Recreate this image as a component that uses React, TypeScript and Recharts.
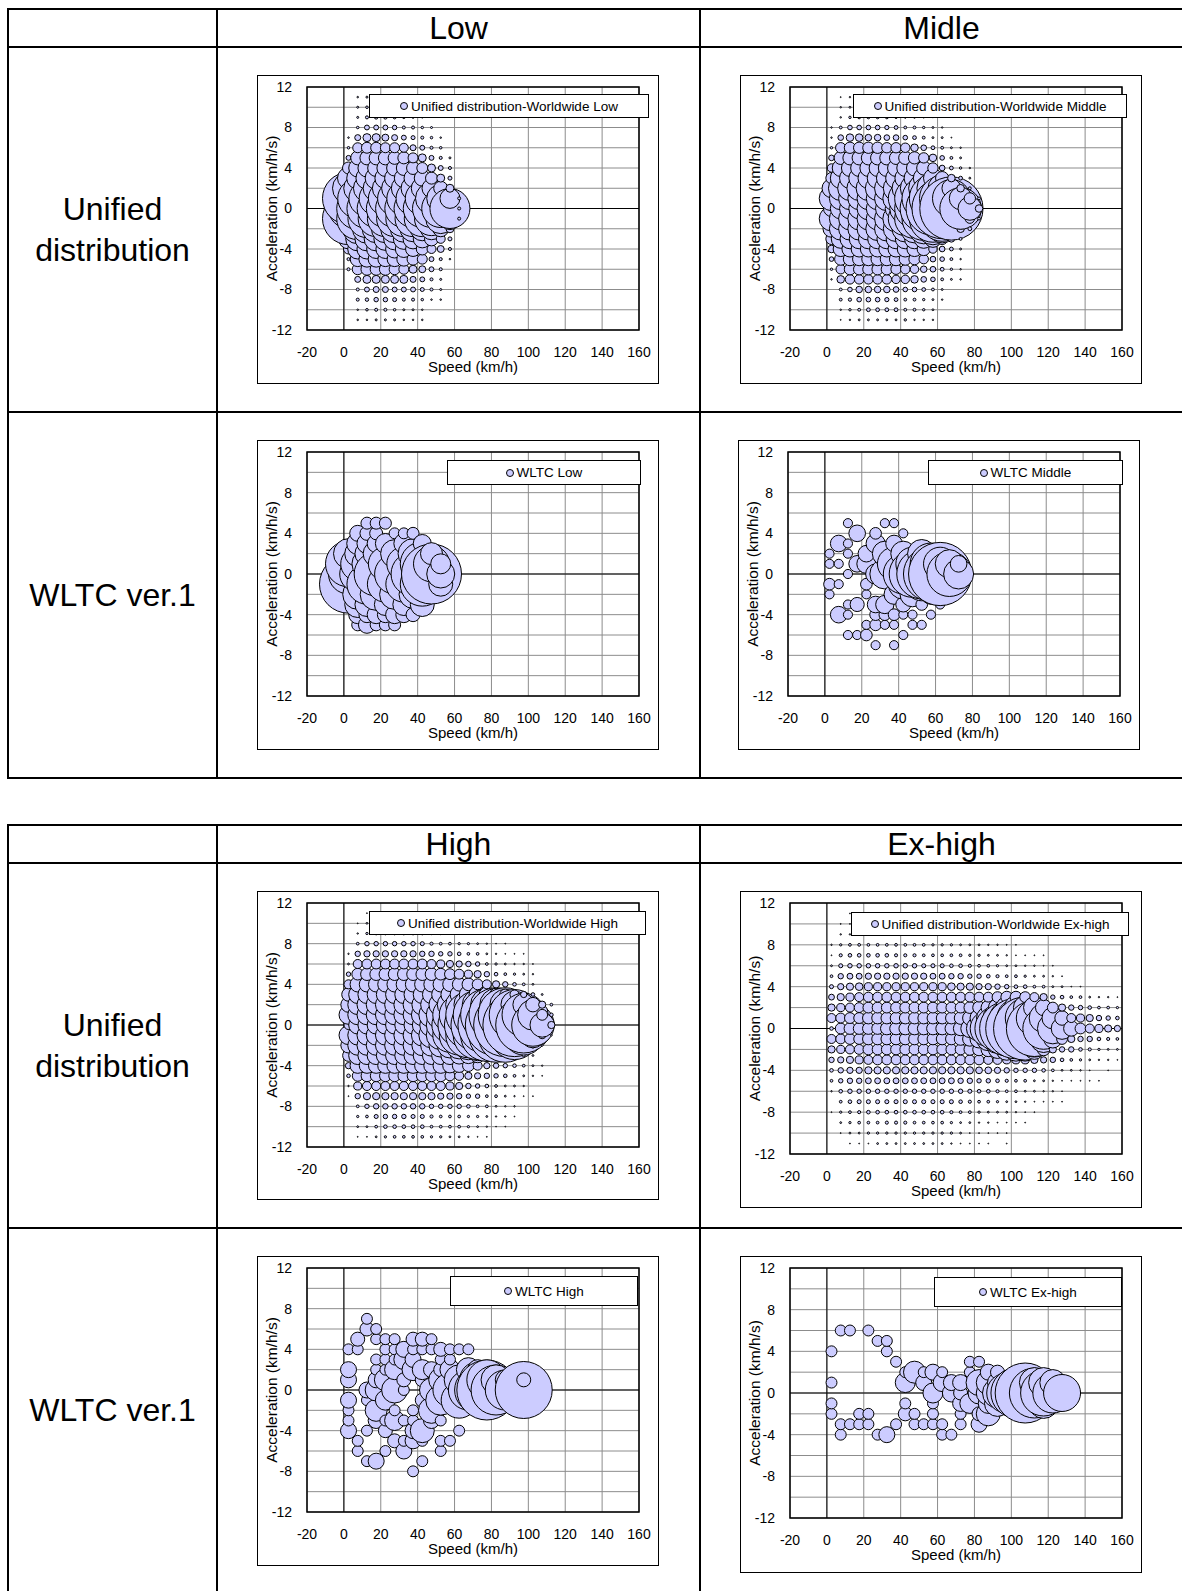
import React from 'react';
import {
  ScatterChart,
  Scatter,
  XAxis,
  YAxis,
  ZAxis,
  CartesianGrid,
  ReferenceLine,
  ReferenceArea,
  Legend,
} from 'recharts';

// speed bins (km/h) and acceleration bins (km/h/s) of the unified distributions
const unifiedSpeeds = [
  2.5, 7.5, 12.5, 17.5, 22.5, 27.5, 32.5, 37.5, 42.5, 47.5, 52.5, 57.5, 62.5, 67.5, 72.5, 77.5,
  82.5, 87.5, 92.5, 97.5, 102.5, 107.5, 112.5, 117.5, 122.5, 127.5, 132.5, 137.5, 142.5, 147.5, 152.5, 157.5,
];
const unifiedAccels = [11, 10, 9, 8, 7, 6, 5, 4, 3, 2, 1, 0, -1, -2, -3, -4, -5, -6, -7, -8, -9, -10, -11];

// relative frequency per cell, one row per acceleration (11 at top), one column per speed bin
const lowUnified = [
  [0, 0.6, 1, 0.6, 0.6, 0.6, 0.25, 0.25, 0.25],
  [0, 1, 1.6, 2.3, 2.3, 1.6, 1, 0.6],
  [0, 1, 2.3, 3, 3, 2.3, 1.6, 1, 0.6],
  [0, 1.6, 6, 6, 6, 5, 2.3, 2.3, 1.6, 1],
  [0.6, 9, 16, 16, 12, 9, 6, 4, 2.3, 1.6, 0.6],
  [1.6, 25, 30, 30, 25, 25, 20, 9, 6, 2.3, 1.6],
  [6, 49, 49, 49, 49, 42, 36, 25, 16, 6, 2.3, 1],
  [36, 81, 81, 72, 72, 64, 56, 42, 30, 16, 6, 2.3],
  [121, 121, 121, 121, 110, 100, 90, 81, 64, 36, 16, 4],
  [256, 196, 182, 169, 169, 169, 156, 144, 121, 90, 49, 16],
  [676, 400, 324, 289, 289, 289, 289, 289, 289, 256, 196, 100, 2.3],
  [400, 441, 400, 361, 361, 361, 361, 361, 361, 361, 361, 400, 2.3],
  [676, 441, 361, 324, 324, 324, 324, 324, 324, 289, 225, 121, 2.3],
  [225, 225, 210, 196, 196, 196, 182, 169, 144, 121, 64, 16],
  [100, 144, 144, 144, 132, 121, 110, 100, 81, 49, 20, 4],
  [25, 100, 100, 90, 90, 81, 72, 56, 36, 20, 12, 2.3],
  [2.3, 56, 64, 64, 56, 56, 49, 36, 25, 6, 2.3, 0.6],
  [2.3, 30, 36, 36, 36, 30, 25, 16, 12, 6, 2.3],
  [0, 9, 16, 16, 16, 16, 16, 9, 6, 2.3, 1],
  [0, 2.3, 6, 9, 9, 6, 6, 6, 4, 2.3, 1],
  [0, 2.3, 3, 5, 5, 4, 2.3, 2.3, 1.6, 0.6, 0.6],
  [0, 0.6, 1.6, 2.3, 2.3, 1.6, 1, 1, 0.6],
  [0, 0.6, 0.6, 1, 1, 1, 0.6, 0.6, 0.6],
];

const middleUnified = [
  [0, 0.25, 0.6, 0.6, 0.6, 0.6, 0.25, 0.25, 0.25],
  [0, 0.6, 1, 1, 1, 1, 1, 0.6, 0.6, 0.25],
  [0, 0.6, 1.6, 2.3, 2.3, 2.3, 2.3, 1.6, 1, 1, 0.6, 0.25],
  [0.6, 2.3, 6, 6, 6, 6, 5, 4, 2.3, 2.3, 1.6, 1, 0.6],
  [0.6, 9, 16, 16, 12, 12, 9, 9, 6, 4, 2.3, 1, 1, 0.25],
  [1.6, 30, 36, 36, 36, 36, 30, 30, 25, 16, 9, 4, 2.3, 1, 0.6],
  [9, 49, 56, 56, 56, 56, 56, 49, 49, 42, 30, 16, 6, 2.3, 1],
  [20, 81, 81, 81, 81, 81, 81, 81, 81, 72, 56, 30, 9, 4, 1.6, 0.6],
  [36, 121, 121, 121, 121, 121, 121, 121, 121, 121, 121, 100, 49, 16, 4, 1],
  [100, 169, 169, 169, 169, 169, 169, 182, 196, 225, 256, 289, 225, 100, 16, 2.3],
  [169, 144, 144, 144, 144, 144, 169, 196, 324, 441, 529, 625, 576, 400, 144, 36, 2.3],
  [72, 121, 121, 121, 144, 144, 144, 132, 272, 441, 625, 812, 1024, 1122, 484, 156, 16],
  [169, 144, 144, 144, 144, 144, 169, 196, 324, 441, 529, 625, 576, 400, 121, 25, 2.3],
  [81, 144, 144, 144, 144, 156, 169, 182, 196, 225, 256, 289, 225, 100, 16, 4],
  [36, 100, 110, 110, 110, 110, 110, 110, 110, 110, 100, 81, 36, 12, 2.3],
  [16, 64, 72, 72, 72, 72, 72, 72, 72, 64, 49, 20, 9, 4, 1],
  [6, 42, 49, 49, 49, 49, 49, 49, 42, 36, 25, 9, 6, 2.3, 0.6],
  [1.6, 25, 36, 36, 36, 36, 36, 30, 25, 20, 12, 9, 4, 1.6, 0.6],
  [0.6, 16, 25, 25, 25, 25, 25, 20, 20, 16, 9, 6, 2.3, 1, 0.6],
  [0, 2.3, 6, 12, 12, 12, 12, 9, 6, 6, 4, 2.3, 1],
  [0, 2.3, 3, 6, 6, 6, 5, 4, 2.3, 2.3, 1.6, 1, 0.6],
  [0, 0.6, 1.6, 2.3, 4, 4, 4, 4, 2.3, 2.3, 1.6, 1],
  [0, 0.25, 0.6, 1, 1, 1, 1, 1, 1.6, 0.6, 0.6, 0.6],
];

const highUnified = [
  [0, 0, 0.25, 0.25, 0.25, 0.25, 0.25, 0.25, 0.25, 0.25],
  [0, 0.25, 1, 1, 1, 1, 1, 1, 1, 1, 0.6, 0.6, 0.6, 0.25, 0.25],
  [0, 0.6, 1.6, 2.3, 2.3, 2.3, 2.3, 2.3, 2.3, 1.6, 1.6, 1, 1, 1, 0.6, 0.6, 0.25],
  [0, 2.3, 6, 6, 6, 6, 6, 6, 5, 3, 2.3, 2.3, 1.6, 1.6, 1, 0.6, 0.25, 0.25],
  [0.6, 9, 12, 12, 12, 12, 12, 12, 9, 9, 6, 6, 4, 2.3, 2.3, 1, 0.6, 0.25, 0.25, 0.25],
  [1, 25, 30, 30, 30, 30, 30, 30, 30, 25, 20, 16, 12, 9, 6, 2.3, 1.6, 1, 0.6, 0.6, 0.25],
  [6, 42, 49, 49, 49, 49, 49, 49, 49, 49, 42, 36, 30, 20, 16, 9, 4, 2.3, 1.6, 1, 0.6],
  [25, 72, 72, 72, 72, 72, 72, 72, 72, 72, 72, 64, 56, 49, 36, 25, 16, 9, 4, 2.3, 1],
  [56, 100, 100, 100, 100, 100, 100, 100, 100, 100, 100, 100, 100, 100, 90, 72, 49, 36, 25, 12, 4, 1],
  [72, 121, 121, 121, 121, 121, 121, 121, 132, 144, 169, 196, 225, 256, 289, 324, 324, 289, 225, 144, 64, 16, 2.3],
  [110, 121, 121, 121, 121, 121, 121, 121, 144, 196, 256, 361, 484, 625, 729, 841, 900, 900, 784, 576, 289, 36, 4],
  [25, 100, 100, 100, 100, 100, 100, 100, 121, 169, 256, 400, 552, 702, 870, 1024, 1156, 1225, 1225, 961, 552, 182, 16],
  [110, 121, 121, 121, 121, 121, 121, 121, 144, 196, 256, 361, 484, 625, 729, 841, 900, 900, 729, 484, 196, 16, 1],
  [72, 121, 121, 121, 121, 121, 121, 121, 132, 144, 169, 196, 225, 256, 289, 289, 256, 196, 121, 49, 9, 1],
  [42, 100, 100, 100, 100, 100, 100, 100, 100, 100, 100, 100, 90, 81, 64, 42, 16, 9, 4, 2.3, 1],
  [12, 72, 72, 72, 72, 72, 72, 72, 72, 72, 72, 64, 56, 42, 25, 12, 9, 6, 4, 2.3, 1, 0.6],
  [4, 36, 42, 42, 42, 42, 42, 42, 42, 42, 42, 30, 25, 16, 12, 9, 6, 4, 2.3, 1, 0.6, 0.25],
  [0.6, 20, 25, 25, 25, 25, 25, 25, 25, 25, 25, 20, 16, 9, 6, 4, 2.3, 1, 1, 0.6],
  [0.25, 9, 16, 16, 16, 16, 16, 16, 16, 16, 12, 12, 9, 6, 6, 2.3, 2.3, 1, 0.6, 0.25, 0.25],
  [0, 2.3, 6, 9, 9, 9, 9, 9, 9, 6, 6, 6, 6, 4, 2.3, 2.3, 1, 0.6, 0.6],
  [0, 1.6, 2.3, 5, 6, 6, 6, 5, 5, 3, 2.3, 2.3, 2.3, 1.6, 1.6, 1, 0.6, 0.6, 0.25],
  [0, 1, 1, 2.3, 4, 4, 4, 4, 4, 2.3, 2.3, 2.3, 2.3, 1.6, 1, 0.6, 0.25, 0.25],
  [0, 0.25, 0.25, 1, 1.6, 2.3, 2.3, 2.3, 2.3, 1.6, 1.6, 1, 1, 0.6, 0.25, 0.25],
];

const exHighUnified = [
  [0, 0, 0.25, 0.25, 0.25, 0.25, 0.25, 0.25, 0.25, 0.25, 0.25, 0.25, 0.25, 0.25],
  [0, 0.25, 0.25, 0.6, 0.6, 0.6, 0.6, 0.6, 0.6, 0.6, 0.6, 0.6, 0.25, 0.25, 0.25, 0.25],
  [0, 0.6, 0.6, 1, 1, 1, 1, 1, 1, 1, 1, 1, 1, 0.6, 0.6, 0.6, 0.25, 0.25, 0.25],
  [0.6, 1.6, 2.3, 2.3, 2.3, 2.3, 2.3, 2.3, 2.3, 2.3, 2.3, 1.6, 1.6, 1.6, 1, 1, 1, 0.6, 0.6, 0.25, 0.25],
  [0.25, 3, 4, 4, 4, 4, 4, 3, 3, 3, 2.3, 2.3, 2.3, 2.3, 2.3, 1.6, 1.6, 1, 1, 0.6, 0.25, 0.25, 0.25, 0.25],
  [1, 5, 6, 6, 6, 6, 6, 6, 6, 6, 5, 5, 5, 4, 4, 3, 2.3, 2.3, 1.6, 1, 1, 0.6, 0.6, 0.25, 0.25],
  [2.3, 9, 10.5, 10.5, 12, 12, 12, 12, 12, 12, 12, 10.5, 10.5, 9, 9, 6, 6, 4, 3, 2.3, 2.3, 1.6, 1, 1, 0.6, 0.25],
  [5, 12, 16, 18, 20, 20, 20, 20, 20, 20, 20, 20, 20, 18, 16, 16, 12, 12, 9, 6, 4, 4, 2.3, 2.3, 1, 1, 0.25, 0.25],
  [10.5, 16, 20, 25, 30, 30, 30, 30, 30, 30, 30, 30, 30, 30, 30, 30, 30, 30, 36, 42, 42, 36, 25, 16, 6, 4, 2.3, 2.3, 1, 0.6, 0.6, 0.25],
  [16, 20, 25, 30, 36, 36, 36, 36, 36, 36, 36, 36, 36, 36, 36, 42, 49, 64, 100, 144, 169, 169, 144, 81, 36, 16, 9, 6, 4, 2.3, 2.3, 1.6],
  [25, 30, 36, 36, 42, 42, 42, 42, 42, 42, 42, 42, 42, 42, 49, 64, 100, 169, 256, 361, 441, 484, 400, 256, 144, 64, 25, 20, 16, 9, 6, 4],
  [4, 36, 42, 42, 42, 42, 49, 49, 49, 49, 49, 49, 49, 49, 64, 100, 196, 400, 625, 900, 1122, 1225, 961, 529, 289, 144, 72, 36, 25, 20, 16, 12],
  [25, 30, 36, 36, 42, 42, 42, 42, 42, 42, 42, 42, 42, 42, 49, 64, 100, 169, 256, 361, 441, 484, 400, 225, 100, 36, 16, 9, 9, 4, 3, 2.3],
  [16, 20, 25, 30, 36, 36, 36, 36, 36, 36, 36, 36, 36, 36, 36, 42, 49, 64, 100, 144, 169, 169, 121, 49, 16, 9, 9, 4, 3, 1.6, 1, 1],
  [9, 12, 16, 20, 25, 30, 30, 30, 30, 30, 30, 30, 30, 30, 30, 30, 30, 25, 25, 20, 20, 20, 16, 12, 9, 4, 2.3, 1.6, 1, 0.6, 0.6, 0.25],
  [4, 9, 12, 12, 16, 16, 16, 16, 16, 16, 16, 16, 16, 16, 16, 16, 14, 14, 12, 9, 6, 6, 6, 4, 2.3, 1, 1, 0.6, 0.25, 0, 0.25],
  [2.3, 6, 9, 9, 10.5, 10.5, 10.5, 10.5, 10.5, 10.5, 10.5, 10.5, 10.5, 10.5, 9, 9, 6, 6, 4, 3, 2.3, 2.3, 1, 1, 0.6, 0.25, 0.25, 0.25, 0.25, 0.25],
  [0.6, 4, 6, 6, 6, 6, 6, 6, 6, 6, 6, 6, 6, 6, 6, 5, 4, 4, 3, 2.3, 2.3, 1, 1, 0.6, 0.6, 0.25],
  [0, 2.3, 4, 5, 5, 5, 5, 5, 5, 5, 5, 5, 5, 5, 4, 3, 2.3, 2.3, 1.6, 1, 1, 0.6, 0.25, 0.25, 0.25, 0.25],
  [0.25, 1.6, 2.3, 3, 4, 4, 4, 4, 4, 4, 4, 4, 4, 3, 2.3, 2.3, 1.6, 1, 1, 1, 0.6, 0.25, 0.25],
  [0, 1, 1.6, 2.3, 2.3, 2.3, 3, 3, 3, 2.3, 2.3, 2.3, 2.3, 1.6, 1, 1, 0.6, 0.6, 0.25, 0.25, 0.25, 0.25],
  [0, 0.25, 1, 1, 1.6, 1.6, 1.6, 1.6, 1.6, 1.6, 1.6, 1.6, 1.6, 1.6, 1, 0.25, 0.25, 0.25, 0.25, 0.25],
  [0, 0, 0.25, 0.25, 0.25, 1, 1, 1, 1, 1, 1, 1, 1, 0.6, 0.25, 0.25, 0.25, 0.25, 0, 0.25],
];

// WLTC ver.1 cells: [speed, acceleration, relative frequency]
const wltcLow: [number, number, number][] = [
  [2.5, -1, 841], [2.5, 0, 400], [2.5, 1, 529], [2.5, 2, 225],
  [7.5, -5, 36], [7.5, -4, 81], [7.5, -3, 169], [7.5, -2, 225], [7.5, 0, 324], [7.5, 1, 289], [7.5, 2, 169], [7.5, 3, 121], [7.5, 4, 64],
  [12.5, -5, 72], [12.5, -4, 64], [12.5, -3, 144], [12.5, -1, 400], [12.5, 1, 225], [12.5, 2, 144], [12.5, 3, 100], [12.5, 4, 49], [12.5, 5, 36],
  [17.5, -5, 36], [17.5, -4, 81], [17.5, -2, 256], [17.5, 0, 484], [17.5, 2, 169], [17.5, 3, 81], [17.5, 4, 42], [17.5, 5, 36],
  [22.5, -5, 36], [22.5, -4, 64], [22.5, -3, 121], [22.5, -1, 324], [22.5, 1, 289], [22.5, 3, 100], [22.5, 5, 36],
  [27.5, -5, 36], [27.5, -4, 81], [27.5, -2, 225], [27.5, 0, 400], [27.5, 2, 196], [27.5, 4, 30],
  [32.5, -4, 64], [32.5, -3, 121], [32.5, -1, 324], [32.5, 1, 289], [32.5, 3, 100], [32.5, 4, 30],
  [37.5, -4, 49], [37.5, -2, 196], [37.5, 0, 484], [37.5, 2, 225], [37.5, 4, 36],
  [42.5, -3, 144], [42.5, -1, 484], [42.5, 1, 484], [42.5, 3, 81],
  [47.5, -1, 289], [47.5, 0, 900], [47.5, 1, 324], [47.5, 2, 121],
  [52.5, -1, 144], [52.5, 0, 196], [52.5, 1, 100],
];

const wltcMiddle: [number, number, number][] = [
  [2.5, -2, 30], [2.5, -1, 49], [2.5, 1, 30], [2.5, 2, 30],
  [7.5, -4, 100], [7.5, -1, 30], [7.5, 1, 30], [7.5, 3, 100],
  [12.5, -6, 30], [12.5, -4, 30], [12.5, -3, 30], [12.5, 0, 30], [12.5, 2, 30], [12.5, 3, 30], [12.5, 5, 30],
  [17.5, -6, 30], [17.5, -3, 72], [17.5, 1, 100], [17.5, 4, 100],
  [22.5, -6, 49], [22.5, -5, 30], [22.5, -2, 30], [22.5, -1, 49], [22.5, 1, 132], [22.5, 2, 100],
  [27.5, -7, 30], [27.5, -5, 49], [27.5, -4, 49], [27.5, -3, 100], [27.5, 0, 144], [27.5, 3, 132], [27.5, 4, 49],
  [32.5, -5, 30], [32.5, -4, 49], [32.5, -3, 121], [32.5, 0, 324], [32.5, 2, 225], [32.5, 5, 30],
  [37.5, -7, 30], [37.5, -5, 30], [37.5, -4, 49], [37.5, -2, 144], [37.5, 1, 400], [37.5, 3, 100], [37.5, 5, 30],
  [42.5, -6, 30], [42.5, -4, 30], [42.5, -3, 81], [42.5, -1, 324], [42.5, 0, 576], [42.5, 2, 225], [42.5, 4, 30],
  [47.5, -5, 30], [47.5, -4, 30], [47.5, -2, 225], [47.5, 0, 784], [47.5, 1, 400],
  [52.5, -5, 30], [52.5, -3, 49], [52.5, -1, 400], [52.5, 0, 900], [52.5, 2, 289],
  [57.5, -4, 30], [57.5, -2, 144], [57.5, 0, 1089], [57.5, 1, 625],
  [62.5, -3, 30], [62.5, 0, 1444], [62.5, 1, 400],
  [67.5, 0, 729], [67.5, 1, 289],
  [72.5, 0, 324], [72.5, 1, 100],
];

const wltcHigh: [number, number, number][] = [
  [2.5, -4, 64], [2.5, -3, 30], [2.5, -2, 30], [2.5, -1, 64], [2.5, 1, 64], [2.5, 2, 64], [2.5, 4, 30],
  [7.5, -6, 30], [7.5, -5, 30], [7.5, 4, 30], [7.5, 5, 49],
  [12.5, -7, 30], [12.5, -4, 30], [12.5, -1, 30], [12.5, 0, 64], [12.5, 6, 49], [12.5, 7, 30],
  [17.5, -7, 64], [17.5, -3, 64], [17.5, -2, 121], [17.5, 0, 121], [17.5, 1, 64], [17.5, 2, 30], [17.5, 3, 30], [17.5, 5, 30], [17.5, 6, 30],
  [22.5, -6, 30], [22.5, -4, 49], [22.5, -3, 30], [22.5, -1, 100], [22.5, 1, 121], [22.5, 2, 30], [22.5, 3, 30], [22.5, 4, 30], [22.5, 5, 30],
  [27.5, -5, 49], [27.5, -3, 100], [27.5, -2, 30], [27.5, 0, 169], [27.5, 2, 100], [27.5, 3, 30], [27.5, 4, 30], [27.5, 5, 30],
  [32.5, -6, 64], [32.5, -5, 30], [32.5, -3, 30], [32.5, 0, 30], [32.5, 1, 49], [32.5, 3, 100], [32.5, 4, 64],
  [37.5, -8, 30], [37.5, -5, 64], [37.5, -4, 64], [37.5, -3, 30], [37.5, -2, 30], [37.5, 2, 121], [37.5, 3, 64], [37.5, 4, 30], [37.5, 5, 49],
  [42.5, -7, 30], [42.5, -5, 30], [42.5, -4, 144], [42.5, -1, 49], [42.5, 1, 49], [42.5, 2, 100], [42.5, 4, 30], [42.5, 5, 49],
  [47.5, -3, 64], [47.5, -2, 169], [47.5, 0, 144], [47.5, 2, 64], [47.5, 4, 30], [47.5, 5, 30],
  [52.5, -6, 30], [52.5, -5, 30], [52.5, -3, 30], [52.5, -1, 225], [52.5, 1, 144], [52.5, 2, 49], [52.5, 3, 30], [52.5, 4, 49],
  [57.5, -5, 30], [57.5, 0, 289], [57.5, 2, 100], [57.5, 3, 30], [57.5, 4, 30],
  [62.5, -4, 30], [62.5, -1, 324], [62.5, 1, 225], [62.5, 4, 30],
  [67.5, 0, 400], [67.5, 2, 144], [67.5, 4, 30],
  [72.5, 0, 529], [72.5, 1, 324], [72.5, 2, 100],
  [77.5, 0, 900], [77.5, 1, 400],
  [82.5, 0, 625], [82.5, 1, 225],
  [87.5, 0, 400], [87.5, 1, 100],
  [92.5, 0, 225],
  [97.5, 0, 812], [97.5, 1, 49],
];

const wltcExHigh: [number, number, number][] = [
  [2.5, -2, 30], [2.5, -1, 30], [2.5, 1, 30], [2.5, 4, 30],
  [7.5, -4, 30], [7.5, -3, 30], [7.5, 6, 30],
  [12.5, -3, 30], [12.5, 6, 30],
  [17.5, -3, 30], [17.5, -2, 30],
  [22.5, -3, 30], [22.5, -2, 30], [22.5, 6, 30],
  [27.5, -4, 30], [27.5, 5, 30],
  [32.5, -4, 64], [32.5, 4, 30], [32.5, 5, 30],
  [37.5, -3, 30], [37.5, 3, 30],
  [42.5, -2, 49], [42.5, -1, 30], [42.5, 1, 100], [42.5, 2, 30],
  [47.5, -3, 30], [47.5, -2, 30], [47.5, 2, 121],
  [52.5, -3, 30], [52.5, 1, 64], [52.5, 2, 30],
  [57.5, -3, 30], [57.5, -2, 30], [57.5, -1, 30], [57.5, 0, 100], [57.5, 2, 64],
  [62.5, -4, 30], [62.5, -3, 30], [62.5, 1, 81], [62.5, 2, 30],
  [67.5, -4, 30], [67.5, 0, 81], [67.5, 1, 64],
  [72.5, -3, 30], [72.5, -2, 30], [72.5, -1, 64], [72.5, 0, 49], [72.5, 1, 64],
  [77.5, -1, 100], [77.5, 2, 30], [77.5, 3, 30],
  [82.5, -3, 64], [82.5, -2, 49], [82.5, 0, 121], [82.5, 1, 169], [82.5, 3, 30],
  [87.5, -2, 144], [87.5, -1, 100], [87.5, 0, 144], [87.5, 1, 144], [87.5, 2, 64],
  [92.5, -1, 169], [92.5, 0, 225], [92.5, 1, 100], [92.5, 2, 49],
  [97.5, 0, 400], [97.5, 1, 121],
  [102.5, 0, 625],
  [107.5, 0, 900],
  [112.5, 0, 625], [112.5, 1, 225],
  [117.5, -1, 225], [117.5, 0, 529], [117.5, 1, 225],
  [122.5, 0, 400], [122.5, 1, 169],
  [127.5, 0, 342],
];

const xTicks = [-20, 0, 20, 40, 60, 80, 100, 120, 140, 160];
const yTicks = [-12, -10, -8, -6, -4, -2, 0, 2, 4, 6, 8, 10, 12];

type Pt = { x: number; y: number; z: number };

// speed ascending, then acceleration ascending (draw order like the original)
function fromGrid(rows: number[][]): Pt[] {
  const pts: Pt[] = [];
  for (let k = 0; k < unifiedSpeeds.length; k++) {
    for (let i = unifiedAccels.length - 1; i >= 0; i--) {
      const v = rows[i][k];
      if (v) pts.push({ x: unifiedSpeeds[k], y: unifiedAccels[i], z: v });
    }
  }
  return pts;
}

function fromList(list: [number, number, number][]): Pt[] {
  return list.map(([x, y, z]) => ({ x, y, z }));
}

type PanelSpec = {
  name: string;
  left: number;
  top: number;
  height: number;
  plotHeight: number;
  legend: { left: number; top: number; width: number; height: number };
  points: Pt[];
};

const panels: PanelSpec[] = [
  { name: 'Unified distribution-Worldwide Low', left: 257, top: 75, height: 309, plotHeight: 243, legend: { left: 111, top: 18, width: 280, height: 24 }, points: fromGrid(lowUnified) },
  { name: 'Unified distribution-Worldwide Middle', left: 740, top: 75, height: 309, plotHeight: 243, legend: { left: 112, top: 18, width: 274, height: 24 }, points: fromGrid(middleUnified) },
  { name: 'WLTC Low', left: 257, top: 440, height: 310, plotHeight: 244, legend: { left: 189, top: 19, width: 194, height: 25 }, points: fromList(wltcLow) },
  { name: 'WLTC Middle', left: 738, top: 440, height: 310, plotHeight: 244, legend: { left: 189, top: 19, width: 195, height: 25 }, points: fromList(wltcMiddle) },
  { name: 'Unified distribution-Worldwide High', left: 257, top: 891, height: 309, plotHeight: 244, legend: { left: 111, top: 19, width: 277, height: 24 }, points: fromGrid(highUnified) },
  { name: 'Unified distribution-Worldwide Ex-high', left: 740, top: 891, height: 317, plotHeight: 251, legend: { left: 110, top: 20, width: 278, height: 24 }, points: fromGrid(exHighUnified) },
  { name: 'WLTC High', left: 257, top: 1256, height: 310, plotHeight: 244, legend: { left: 192, top: 19, width: 188, height: 30 }, points: fromList(wltcHigh) },
  { name: 'WLTC Ex-high', left: 740, top: 1256, height: 317, plotHeight: 250, legend: { left: 193, top: 20, width: 188, height: 30 }, points: fromList(wltcExHigh) },
];

const FONT = 'Arial, "Liberation Sans", Helvetica, sans-serif';

function Panel({ spec }: { spec: PanelSpec }) {
  const innerH = spec.height - 2;
  const xAxisH = innerH - 11 - spec.plotHeight;
  return (
    <div
      style={{
        position: 'absolute',
        left: spec.left,
        top: spec.top,
        width: 402,
        height: spec.height,
        border: '1px solid #000',
        boxSizing: 'border-box',
        background: '#fff',
      }}
    >
      <ScatterChart width={400} height={innerH} margin={{ top: 11, right: 19, bottom: 0, left: 0 }}>
        <CartesianGrid stroke="#8c8c8c" strokeWidth={1} />
        <XAxis
          type="number"
          dataKey="x"
          domain={[-20, 160]}
          ticks={xTicks}
          interval={0}
          allowDataOverflow
          axisLine={false}
          tickLine={false}
          tickSize={6}
          tickMargin={11}
          height={xAxisH}
          tick={{ fontSize: 14, fill: '#000' }}
          label={{ value: 'Speed (km/h)', position: 'insideTop', offset: 31, fill: '#000', fontSize: 15 }}
        />
        <YAxis
          type="number"
          dataKey="y"
          domain={[-12, 12]}
          ticks={yTicks}
          interval={0}
          allowDataOverflow
          axisLine={false}
          tickLine={false}
          tickSize={6}
          tickMargin={9}
          width={49}
          tick={{ fontSize: 14, fill: '#000' }}
          tickFormatter={(v: number) => (v % 4 === 0 ? String(v) : '')}
          label={{
            value: 'Acceleration (km/h/s)',
            angle: -90,
            position: 'insideLeft',
            offset: 13,
            fill: '#000',
            fontSize: 15.5,
            style: { textAnchor: 'middle' },
          }}
        />
        <ZAxis type="number" dataKey="z" domain={[0, 1000]} range={[0, 1000 * Math.PI]} />
        <ReferenceLine x={0} stroke="#000" strokeWidth={1} zIndex={-50} />
        <ReferenceLine y={0} stroke="#000" strokeWidth={1} zIndex={-50} />
        <Scatter
          name={spec.name}
          data={spec.points}
          fill="#ccccff"
          stroke="#000"
          strokeWidth={1}
          isAnimationActive={false}
        />
        <ReferenceArea x1={-20} x2={160} y1={-12} y2={12} fill="none" stroke="#000" strokeWidth={1.5} />
        <Legend
          layout="vertical"
          align="center"
          verticalAlign="middle"
          wrapperStyle={{
            position: 'absolute',
            left: spec.legend.left,
            top: spec.legend.top,
            width: spec.legend.width,
            height: spec.legend.height,
          }}
          content={() => (
            <div
              style={{
                boxSizing: 'border-box',
                width: '100%',
                height: '100%',
                border: '1px solid #000',
                background: '#fff',
                display: 'flex',
                alignItems: 'center',
                justifyContent: 'center',
                fontSize: 13.5,
                color: '#000',
                fontFamily: FONT,
                whiteSpace: 'nowrap',
              }}
            >
              <span
                style={{
                  display: 'inline-block',
                  width: 8,
                  height: 8,
                  boxSizing: 'border-box',
                  borderRadius: '50%',
                  background: '#ccccff',
                  border: '1px solid #000',
                  marginRight: 3,
                }}
              />
              {spec.name}
            </div>
          )}
        />
      </ScatterChart>
    </div>
  );
}

function HLine({ top, left, width }: { top: number; left: number; width: number }) {
  return <div style={{ position: 'absolute', top, left, width, height: 2, background: '#000' }} />;
}

function VLine({ left, top, height }: { left: number; top: number; height: number }) {
  return <div style={{ position: 'absolute', top, left, width: 2, height, background: '#000' }} />;
}

function Cell({ left, top, width, height, lines }: { left: number; top: number; width: number; height: number; lines: string[] }) {
  return (
    <div
      style={{
        position: 'absolute',
        left,
        top,
        width,
        height,
        display: 'flex',
        flexDirection: 'column',
        alignItems: 'center',
        justifyContent: 'center',
        fontSize: 32,
        lineHeight: '41px',
        color: '#000',
        textAlign: 'center',
      }}
    >
      {lines.map((t) => (
        <div key={t}>{t}</div>
      ))}
    </div>
  );
}

export default function App() {
  return (
    <div style={{ position: 'relative', width: 1182, height: 1591, overflow: 'hidden', background: '#fff', fontFamily: FONT }}>
      <style>{'html,body{margin:0;padding:0;overflow:hidden;background:#fff}'}</style>

      {/* table 1 */}
      <HLine top={8} left={7} width={1180} />
      <HLine top={46} left={7} width={1180} />
      <HLine top={411} left={7} width={1180} />
      <HLine top={777} left={7} width={1180} />
      <VLine left={7} top={8} height={771} />
      <VLine left={216} top={8} height={771} />
      <VLine left={699} top={8} height={771} />

      {/* table 2 */}
      <HLine top={824} left={7} width={1180} />
      <HLine top={862} left={7} width={1180} />
      <HLine top={1227} left={7} width={1180} />
      <VLine left={7} top={824} height={770} />
      <VLine left={216} top={824} height={770} />
      <VLine left={699} top={824} height={770} />

      <Cell left={218} top={10} width={481} height={36} lines={['Low']} />
      <Cell left={701} top={10} width={481} height={36} lines={['Midle']} />
      <Cell left={9} top={48} width={207} height={363} lines={['Unified', 'distribution']} />
      <Cell left={9} top={413} width={207} height={364} lines={['WLTC ver.1']} />

      <Cell left={218} top={826} width={481} height={36} lines={['High']} />
      <Cell left={701} top={826} width={481} height={36} lines={['Ex-high']} />
      <Cell left={9} top={864} width={207} height={363} lines={['Unified', 'distribution']} />
      <Cell left={9} top={1229} width={207} height={363} lines={['WLTC ver.1']} />

      {panels.map((p) => (
        <Panel key={p.name} spec={p} />
      ))}
    </div>
  );
}
